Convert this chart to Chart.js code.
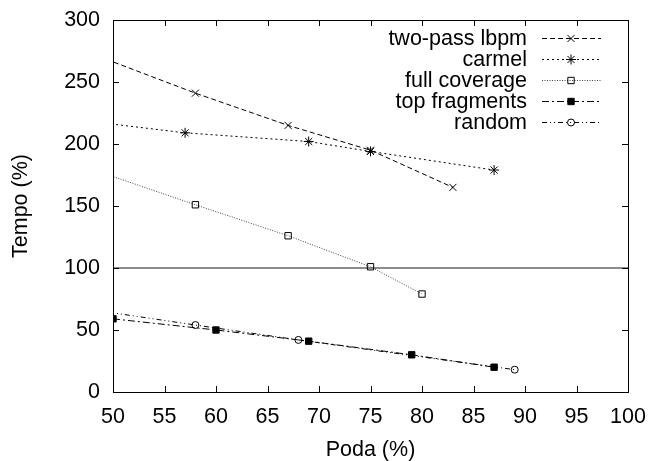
<!DOCTYPE html>
<html>
<head>
<meta charset="utf-8">
<script src="https://cdn.jsdelivr.net/npm/chart.js@4/dist/chart.umd.min.js"></script>
<style>
  html, body { margin: 0; padding: 0; background: #fff; }
  #wrap { width: 649px; height: 461px; }
</style>
</head>
<body>
<div id="wrap"><canvas id="chart"></canvas></div>
<script>
// data (x = Poda %, y = Tempo %); first points of some series lie left of 50 and get clipped
const lbpmX = [45, 58, 67, 75, 83];
const lbpmY = [282, 241, 215, 195, 165];
const carmelX = [45, 57, 69, 75, 87];
const carmelY = [221, 209, 202, 194, 179];
const fullX = [45, 58, 67, 75, 80];
const fullY = [188, 151, 126, 101, 79];
const topX = [50, 60, 69, 79, 87];
const topY = [59, 50, 41, 30, 20];
const randX = [45, 58, 68, 89];
const randY = [70, 54, 42, 18];
const refX = [50, 100];
const refY = [100, 100];

const seriesNames = ['two-pass lbpm', 'carmel', 'full coverage', 'top fragments', 'random'];
const xTicks = [50, 55, 60, 65, 70, 75, 80, 85, 90, 95, 100];
const yTicks = [0, 50, 100, 150, 200, 250, 300];

const FONT = 'Liberation Sans, Arial, Helvetica, sans-serif';
const FSIZE = 21.5;

function pts(xs, ys) {
    return xs.map((x, i) => ({ x: x, y: ys[i] }));
}

function series(label, xs, ys, dash, style, fill, r) {
    return {
        label: label,
        data: pts(xs, ys),
        borderColor: '#000',
        borderWidth: 1,
        borderDash: dash,
        pointStyle: style,
        pointRadius: r,
        pointBorderWidth: 1,
        pointBorderColor: '#000',
        pointBackgroundColor: fill ? '#000' : 'rgba(0,0,0,0)',
        tension: 0
    };
}

const datasets = [
    series(seriesNames[0], lbpmX, lbpmY, [5, 3], 'crossRot', false, 5),
    series(seriesNames[1], carmelX, carmelY, [2, 3], 'star', false, 5),
    series(seriesNames[2], fullX, fullY, [1, 1.5], 'rect', false, 4.5),
    series(seriesNames[3], topX, topY, [7, 3, 2, 3], 'rect', true, 4.5),
    series(seriesNames[4], randX, randY, [5, 3, 1, 3, 1, 3], 'circle', false, 3.5),
    {
        label: '',
        data: pts(refX, refY),
        borderColor: '#666',
        borderWidth: 1.5,
        pointRadius: 0,
        tension: 0
    }
];
datasets[2].borderColor = '#444';

// box, inward ticks and gnuplot style key
const framePlugin = {
    id: 'frame',
    afterDraw(chart) {
        const ctx = chart.ctx;
        const a = chart.chartArea;
        const xs = chart.scales.x, ys = chart.scales.y;
        ctx.save();
        ctx.strokeStyle = '#000';
        ctx.lineWidth = 1;
        ctx.setLineDash([]);
        ctx.strokeRect(a.left + 0.5, a.top + 0.5, a.right - a.left, a.bottom - a.top);
        ctx.beginPath();
        xTicks.forEach(v => {
            const px = Math.round(xs.getPixelForValue(v)) + 0.5;
            ctx.moveTo(px, a.bottom); ctx.lineTo(px, a.bottom - 6);
            ctx.moveTo(px, a.top); ctx.lineTo(px, a.top + 6);
        });
        yTicks.forEach(v => {
            const py = Math.round(ys.getPixelForValue(v)) + 0.5;
            ctx.moveTo(a.left, py); ctx.lineTo(a.left + 6, py);
            ctx.moveTo(a.right, py); ctx.lineTo(a.right - 6, py);
        });
        ctx.stroke();

        // key
        ctx.font = FSIZE + 'px ' + FONT;
        ctx.textAlign = 'right';
        ctx.textBaseline = 'middle';
        ctx.fillStyle = '#000';
        seriesNames.forEach((name, i) => {
            const ds = chart.data.datasets[i];
            const y = 38 + i * 21;
            ctx.fillText(name, 527, y + 1);
            ctx.strokeStyle = ds.borderColor;
            ctx.setLineDash(ds.borderDash);
            ctx.beginPath();
            ctx.moveTo(542, y + 0.5);
            ctx.lineTo(601, y + 0.5);
            ctx.stroke();
            ctx.setLineDash([]);
            ctx.fillStyle = ds.pointBackgroundColor;
            ctx.strokeStyle = '#000';
            Chart.helpers.drawPoint(ctx, {
                pointStyle: ds.pointStyle,
                radius: ds.pointRadius,
                rotation: 0,
                borderWidth: 1
            }, 571, y + 0.5);
            ctx.fillStyle = '#000';
        });
        ctx.restore();
    }
};

new Chart(document.getElementById('chart'), {
    type: 'line',
    data: { datasets: datasets },
    options: {
        responsive: true,
        maintainAspectRatio: false,
        animation: false,
        layout: { padding: { top: 20, right: 21, left: 0, bottom: 0 } },
        plugins: {
            legend: { display: false },
            tooltip: { enabled: false }
        },
        scales: {
            x: {
                type: 'linear',
                min: 50,
                max: 100,
                afterFit: s => { s.height = 69; s.paddingLeft = 0; s.paddingRight = 0; },
                afterBuildTicks: s => { s.ticks = xTicks.map(v => ({ value: v })); },
                grid: { display: false, drawTicks: false },
                border: { display: false },
                ticks: { color: '#000', font: { family: FONT, size: FSIZE }, padding: 12, maxRotation: 0 },
                title: { display: true, text: 'Poda (%)', color: '#000', font: { family: FONT, size: FSIZE, lineHeight: 1 }, padding: { top: 0, bottom: 0 } }
            },
            y: {
                min: 0,
                max: 300,
                afterFit: s => { s.width = 113; s.paddingTop = 0; s.paddingBottom = 0; },
                afterBuildTicks: s => { s.ticks = yTicks.map(v => ({ value: v })); },
                grid: { display: false, drawTicks: false },
                border: { display: false },
                ticks: { color: '#000', font: { family: FONT, size: FSIZE }, padding: 13 },
                title: { display: true, text: 'Tempo (%)', color: '#000', font: { family: FONT, size: FSIZE }, padding: { top: 8, bottom: 0 } }
            }
        }
    },
    plugins: [framePlugin]
});
</script>
</body>
</html>
